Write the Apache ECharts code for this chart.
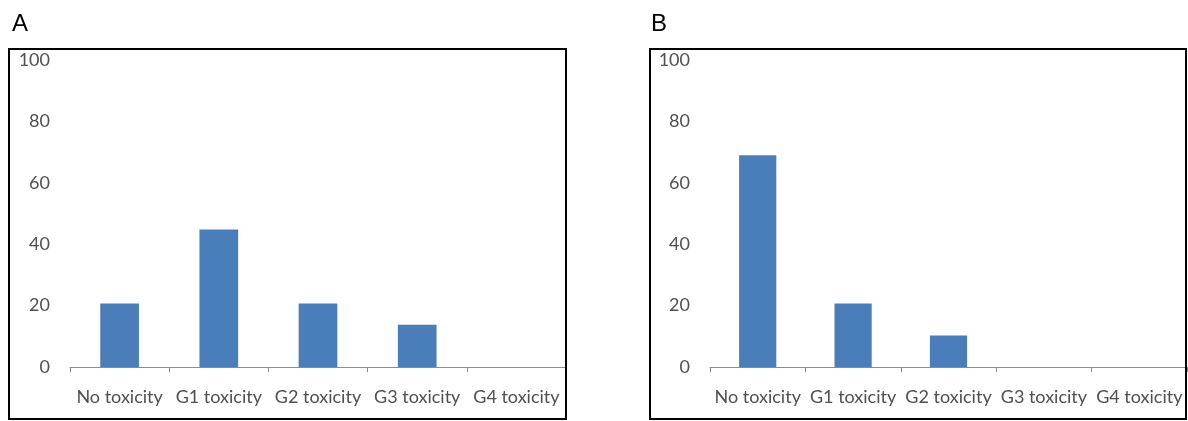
<!DOCTYPE html>
<html>
<head>
<meta charset="utf-8">
<script src="https://cdn.jsdelivr.net/npm/echarts@6/dist/echarts.min.js"></script>
<style>
  html, body { margin: 0; padding: 0; background: #ffffff; }
  #chart { width: 1188px; height: 421px; }
</style>
</head>
<body>
<div id="chart"></div>
<script>
// Toxicity grade categories shared by both panels
const categories = ['No toxicity', 'G1 toxicity', 'G2 toxicity', 'G3 toxicity', 'G4 toxicity'];
// Percentage of patients per grade, panel A and panel B
const valuesA = [20.7, 44.8, 20.7, 13.8, 0];
const valuesB = [69.0, 20.7, 10.3, 0, 0];
// Panel letters
const panelLabels = ['A', 'B'];
// Value axis range
const yMin = 0, yMax = 100, yStep = 20;

const labelColor = '#505050';
const labelFont = 'Lato, "Open Sans", sans-serif';
const barColor = '#4a7ebb';

const chart = echarts.init(document.getElementById('chart'), null, { renderer: 'canvas' });

function xAxisFor(gridIndex) {
  return {
    type: 'category',
    gridIndex: gridIndex,
    data: categories,
    boundaryGap: true,
    axisLine: { show: true, lineStyle: { color: '#8c8c8c', width: 1 } },
    axisTick: { show: true, inside: false, length: 5, alignWithLabel: false, lineStyle: { color: '#8c8c8c' } },
    axisLabel: { interval: 0, color: labelColor, fontFamily: labelFont, fontSize: 18, margin: 21 }
  };
}

function yAxisFor(gridIndex) {
  return {
    type: 'value',
    gridIndex: gridIndex,
    min: yMin, max: yMax, interval: yStep,
    axisLine: { show: false },
    axisTick: { show: false },
    splitLine: { show: false },
    axisLabel: { color: labelColor, fontFamily: labelFont, fontSize: 18, margin: 20 }
  };
}

function barSeries(idx, data) {
  return {
    type: 'bar',
    xAxisIndex: idx,
    yAxisIndex: idx,
    data: data,
    barWidth: '39%',
    itemStyle: { color: barColor },
    silent: true
  };
}

chart.setOption({
  animation: false,
  backgroundColor: '#ffffff',
  grid: [
    { left: 70, top: 60, width: 496, height: 307 },
    { left: 710, top: 60, width: 477, height: 307 }
  ],
  xAxis: [xAxisFor(0), xAxisFor(1)],
  yAxis: [yAxisFor(0), yAxisFor(1)],
  series: [barSeries(0, valuesA), barSeries(1, valuesB)],
  graphic: [
    { type: 'rect', shape: { x: 9, y: 49, width: 557, height: 370 },
      style: { fill: 'none', stroke: '#000000', lineWidth: 2 }, z: 10 },
    { type: 'rect', shape: { x: 650, y: 49, width: 536, height: 370 },
      style: { fill: 'none', stroke: '#000000', lineWidth: 2 }, z: 10 },
    { type: 'text', left: 12, top: 12,
      style: { text: panelLabels[0], fill: '#000000', font: '24px "Liberation Sans", Arial, sans-serif' } },
    { type: 'text', left: 651, top: 12,
      style: { text: panelLabels[1], fill: '#000000', font: '24px "Liberation Sans", Arial, sans-serif' } }
  ]
});
</script>
</body>
</html>
